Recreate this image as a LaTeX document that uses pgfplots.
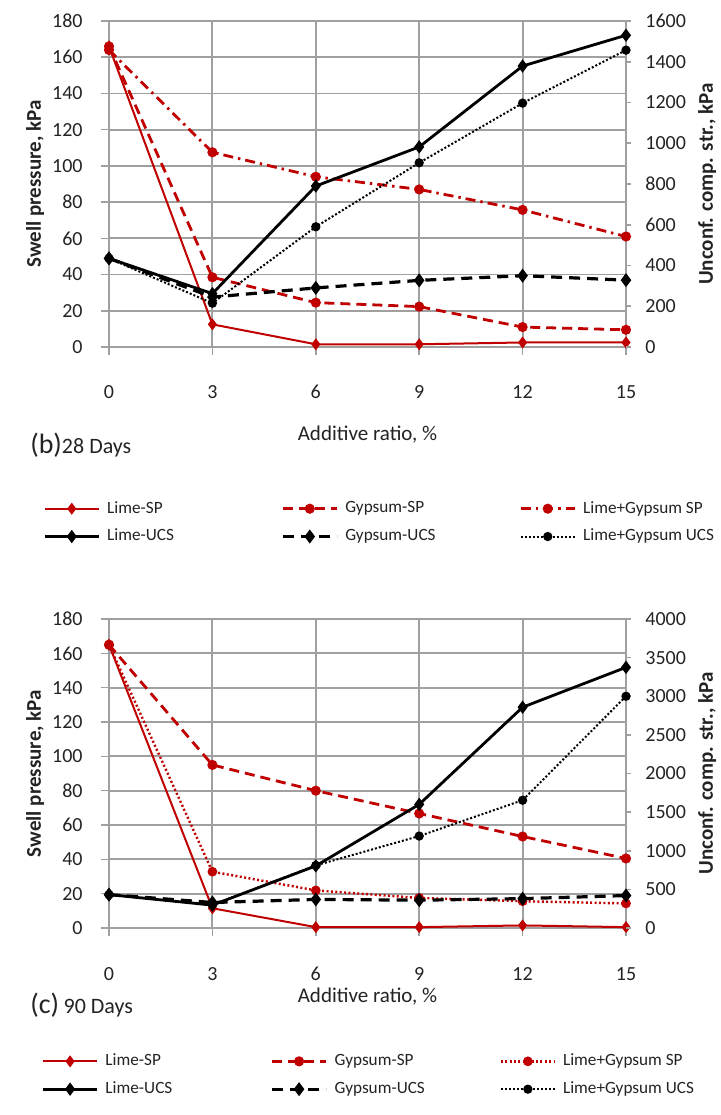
\documentclass[border=0pt]{standalone}
\usepackage{pgfplots}
\usepackage{pgfplotstable}
\pgfplotsset{compat=1.18}
\usepackage{fontspec}
\setmainfont{Carlito}
\definecolor{myred}{RGB}{192,0,0}
\definecolor{gridgray}{RGB}{160,160,160}
\definecolor{txt}{RGB}{35,35,35}

\pgfplotstableread{
x limesp gypsp lgsp limeucs gypucs lgucs
0 166 166 164 435 435 435
3 12.5 38.5 107.5 262 245 215
6 1.5 24.5 94 790 290 590
9 1.5 22.3 87 982 327 904
12 2.5 11 75.7 1379 350 1197
15 2.5 9.5 61 1530 328 1457
}\dataB
\pgfplotstableread{
x limesp gypsp lgsp limeucs gypucs lgucs
0 165 165 165 432 432 432
3 11.5 95 32.8 296 330 300
6 0.5 80 21.9 804 370 810
9 0.5 66.7 17.5 1600 360 1190
12 1.5 53.3 15.6 2858 380 1654
15 0.5 40.5 14.3 3374 420 3000
}\dataC

\pgfplotsset{
  common/.style={
    scale only axis, width=258.5pt,
    xmin=0, xmax=15, ymin=0,
    xtick={0,3,6,9,12,15},
    /pgf/number format/assume math mode=true,
    /pgf/number format/1000 sep={},
    tick label style={font=\fontsize{10}{12}\selectfont, text=txt},
    axis line style={draw=none},
    tick style={gridgray, line width=0.8pt},
    tick align=outside,
    major tick length=4pt,
    clip=false,
  },
  leftax/.style={common,
    ymax=180, ytick={0,20,...,180},
    grid=major, major grid style={gridgray, line width=0.9pt},
    xtick pos=bottom, ytick pos=left,
    xticklabel style={anchor=base, inner sep=0pt, yshift=-22pt},
    yticklabel style={anchor=east, inner sep=0pt, xshift=-9pt},
    ylabel={Swell pressure, kPa},
    every axis y label/.style={at={(axis description cs:-0.143,0.5)}, anchor=center, rotate=90, font=\bfseries\fontsize{10.5}{12}\selectfont, text=txt},
    xlabel={Additive ratio, \%},
  },
  rightax/.style={common,
    axis y line*=right, axis x line=none, ytick pos=right,
    major tick length=2.5pt,
    yticklabel style={anchor=west, inner sep=0pt, xshift=7pt},
    ylabel={Unconf. comp. str., kPa},
    every axis y label/.style={at={(axis description cs:1.157,0.5)}, anchor=center, rotate=90, font=\bfseries\fontsize{10.5}{12}\selectfont, text=txt},
    legend columns=3,
    legend image code/.code={\draw[mark repeat=2,mark phase=2,##1] plot coordinates {(0pt,0pt) (13.5pt,0pt) (27pt,0pt)};},
  },
  limesp/.style={myred, line width=1pt, mark=diamond*, mark size=2.2pt, mark options={solid}},
  gypsp/.style={myred, line width=1.4pt, dash pattern=on 5pt off 3pt, mark=*, mark size=1.8pt, mark options={solid}},
  lgspB/.style={myred, line width=1.4pt, dash pattern=on 5pt off 2.5pt on 1.2pt off 2.5pt, mark=*, mark size=1.8pt, mark options={solid}},
  lgspC/.style={myred, line width=1.2pt, dash pattern=on 1pt off 1.2pt, mark=*, mark size=1.8pt, mark options={solid}},
  limeucs/.style={black, line width=1.4pt, mark=diamond*, mark size=2.2pt, mark options={solid}},
  gypucs/.style={black, line width=1.6pt, dash pattern=on 5.5pt off 3.5pt, mark=diamond*, mark size=2.2pt, mark options={solid}},
  lgucs/.style={black, line width=1pt, dash pattern=on 1pt off 1pt, mark=*, mark size=1.8pt, mark options={solid}},
  mylegend/.style={draw=none, fill=none, inner sep=0pt, row sep=5.5pt, font=\fontsize{8.6}{10}\selectfont, text=txt, nodes={inner sep=0.5pt}, /tikz/every odd column/.append style={column sep=3pt}},
}

\begin{document}
\begin{tikzpicture}
\path[use as bounding box] (0,0) rectangle (360pt,557.5pt);

% ---------- (b) 28 days ----------
\begin{axis}[leftax, at={(54.5pt,384pt)}, anchor=south west, height=163pt,
  every axis x label/.style={at={(axis description cs:0.5,-0.27)}, anchor=center, font=\fontsize{10.5}{12}\selectfont, text=txt}]
\addplot[limesp] table[x=x,y=limesp]{\dataB};
\addplot[gypsp] table[x=x,y=gypsp]{\dataB};
\addplot[lgspB] table[x=x,y=lgsp]{\dataB};
\node[anchor=west, text=txt, inner sep=0pt] at (axis description cs:-0.153,-0.30) {{\fontsize{14}{16}\selectfont(b)}{\fontsize{11}{13}\selectfont 28 Days}};
\end{axis}
\begin{axis}[rightax, at={(54.5pt,384pt)}, anchor=south west, height=163pt,
  ymax=1600, ytick={0,200,...,1600},
  legend style={mylegend, at={(axis description cs:-0.1277,-0.469)}, anchor=north west}]
\addlegendimage{limesp}\addlegendentry{\makebox[86.5pt][l]{Lime-SP}}
\addlegendimage{gypsp}\addlegendentry{\makebox[86.5pt][l]{Gypsum-SP}}
\addlegendimage{lgspB}\addlegendentry{\makebox[86.5pt][l]{Lime+Gypsum SP}}
\addplot[limeucs] table[x=x,y=limeucs]{\dataB};\addlegendentry{\makebox[86.5pt][l]{Lime-UCS}}
\addplot[gypucs] table[x=x,y=gypucs]{\dataB};\addlegendentry{\makebox[86.5pt][l]{Gypsum-UCS}}
\addplot[lgucs] table[x=x,y=lgucs]{\dataB};\addlegendentry{\makebox[86.5pt][l]{Lime+Gypsum UCS}}
\end{axis}

% ---------- (c) 90 days ----------
\begin{axis}[leftax, at={(54.5pt,93.5pt)}, anchor=south west, height=154.5pt,
  every axis x label/.style={at={(axis description cs:0.5,-0.223)}, anchor=center, font=\fontsize{10.5}{12}\selectfont, text=txt}]
\addplot[limesp] table[x=x,y=limesp]{\dataC};
\addplot[gypsp] table[x=x,y=gypsp]{\dataC};
\addplot[lgspC] table[x=x,y=lgsp]{\dataC};
\node[anchor=west, text=txt, inner sep=0pt] at (axis description cs:-0.153,-0.249) {{\fontsize{14}{16}\selectfont(c)} {\fontsize{11}{13}\selectfont 90 Days}};
\end{axis}
\begin{axis}[rightax, at={(54.5pt,93.5pt)}, anchor=south west, height=154.5pt,
  ymax=4000, ytick={0,500,...,4000},
  legend style={mylegend, at={(axis description cs:-0.131,-0.403)}, anchor=north west}]
\addlegendimage{limesp}\addlegendentry{\makebox[82pt][l]{Lime-SP}}
\addlegendimage{gypsp}\addlegendentry{\makebox[82pt][l]{Gypsum-SP}}
\addlegendimage{lgspC}\addlegendentry{\makebox[82pt][l]{Lime+Gypsum SP}}
\addplot[limeucs] table[x=x,y=limeucs]{\dataC};\addlegendentry{\makebox[82pt][l]{Lime-UCS}}
\addplot[gypucs] table[x=x,y=gypucs]{\dataC};\addlegendentry{\makebox[82pt][l]{Gypsum-UCS}}
\addplot[lgucs] table[x=x,y=lgucs]{\dataC};\addlegendentry{\makebox[82pt][l]{Lime+Gypsum UCS}}
\end{axis}
\end{tikzpicture}
\end{document}
